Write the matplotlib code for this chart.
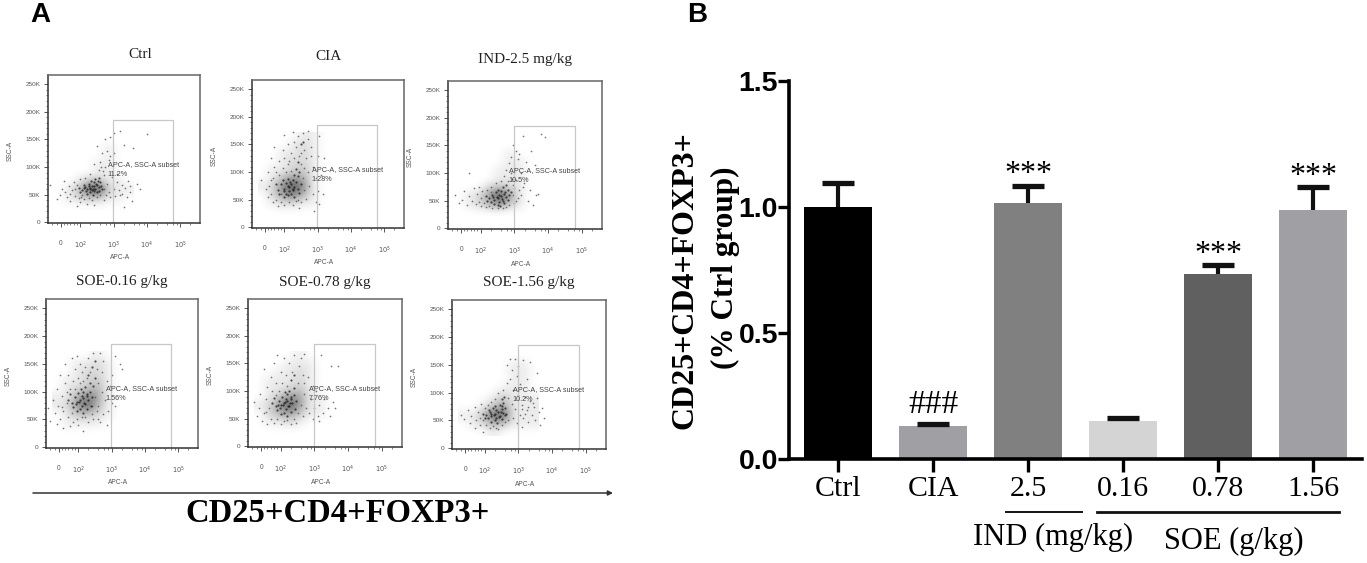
import numpy as np
import matplotlib
matplotlib.use("Agg")
import matplotlib.pyplot as plt
from matplotlib.colors import LinearSegmentedColormap

W, H = 1367, 563
SERIF = "Liberation Serif"
SANS = "Liberation Sans"

# ---------- bar chart values ----------
bar_labels = ["Ctrl", "CIA", "2.5", "0.16", "0.78", "1.56"]
bar_means = [1.00, 0.13, 1.015, 0.15, 0.735, 0.99]
bar_errors = [0.095, 0.01, 0.07, 0.012, 0.033, 0.088]
bar_marks = ["", "###", "***", "", "***", "***"]
y_ticks = [0.0, 0.5, 1.0, 1.5]

# ---------- flow cytometry values, estimated: (APC-A position in decades, SSC-A in K) ----------
panel_titles = ["Ctrl", "CIA", "IND-2.5 mg/kg", "SOE-0.16 g/kg", "SOE-0.78 g/kg", "SOE-1.56 g/kg"]
panel_percent = ["11.2%", "1.28%", "10.5%", "1.56%", "7.76%", "10.2%"]

ctrl_core = [(2.3,62),(2.4,65),(2.2,60),(2.5,68),(2.35,58),(2.15,64),(2.45,60),(2.55,63),(2.25,70),(2.4,72),(2.05,58),(2.6,72),(2.3,54),(2.5,55),(2.1,68),(2.65,60),(1.95,62),(2.2,52),(2.45,78),(2.55,80),(2.35,66),(2.28,61),(2.42,57),(2.18,57),(2.52,74),(2.0,54),(2.62,66),(2.38,50),(2.32,75),(2.12,62),(2.27,66),(2.47,69),(2.37,61),(2.57,57)]
ctrl_sparse = [(1.1,67),(1.3,42),(1.4,50),(1.45,60),(1.5,75),(1.55,55),(1.6,46),(1.65,66),(1.7,38),(1.75,58),(1.8,72),(1.85,48),(1.9,30),(1.9,68),(1.95,44),(2.0,78),(2.0,36),(2.05,50),(2.1,42),(2.15,80),(2.2,33),(2.25,44),(2.3,88),(2.35,40),(2.4,32),(2.4,105),(2.5,45),(2.5,138),(2.55,95),(2.6,110),(2.6,50),(2.65,125),(2.7,85),(2.7,40),(2.75,100),(2.75,150),(2.8,130),(2.8,70),(2.85,55),(2.85,112),(2.9,155),(2.9,45),(2.95,82),(3.0,162),(3.0,60),(3.0,125),(3.05,48),(3.1,72),(3.15,58),(3.2,50),(3.2,165),(3.25,68),(3.3,28),(3.3,140),(3.35,62),(3.4,45),(3.45,75),(3.5,55),(3.55,38),(3.6,135),(3.7,70),(3.8,60),(4.0,160),(1.7,52),(1.85,60),(2.02,46),(2.72,60),(2.78,50),(2.68,92),(2.9,120),(2.62,100),(3.1,88),(3.25,52),(3.5,66)]

cia_core = [(2.1,75),(2.0,70),(2.2,78),(2.3,72),(1.9,78),(2.15,65),(2.25,85),(2.05,60),(2.35,82),(1.8,68),(2.4,70),(2.1,88),(2.3,95),(2.2,60),(1.95,85),(2.45,62),(1.85,60),(2.5,78),(2.4,92),(2.0,55),(2.3,55),(2.15,72),(2.25,70),(2.05,80),(1.75,78),(2.35,105),(2.45,100),(2.5,150),(2.55,155),(2.4,118),(2.25,68),(2.12,58),(1.98,65),(2.18,82)]
cia_sparse = [(1.3,85),(1.45,70),(1.5,55),(1.5,100),(1.55,75),(1.6,60),(1.6,125),(1.65,90),(1.65,45),(1.7,145),(1.7,110),(1.75,100),(1.75,50),(1.8,38),(1.85,120),(1.85,95),(1.9,45),(1.95,140),(1.95,108),(2.0,168),(2.0,125),(2.0,40),(2.05,100),(2.1,150),(2.1,115),(2.15,45),(2.2,135),(2.2,102),(2.25,172),(2.25,40),(2.3,155),(2.3,125),(2.35,48),(2.35,145),(2.4,165),(2.4,50),(2.45,130),(2.5,115),(2.5,45),(2.55,170),(2.55,90),(2.6,140),(2.6,68),(2.65,125),(2.65,52),(2.7,160),(2.7,100),(2.7,175),(2.75,75),(2.8,130),(2.8,145),(2.85,110),(2.85,60),(2.9,30),(2.95,45),(2.95,90),(3.0,130),(3.0,65),(3.05,42),(3.05,165),(3.1,95),(3.15,60),(3.2,125),(2.45,35),(1.6,85),(2.15,120),(2.6,108),(1.9,60),(2.5,135)]

ind_core = [(2.5,55),(2.6,58),(2.4,52),(2.7,62),(2.55,48),(2.35,60),(2.65,50),(2.75,56),(2.45,65),(2.6,68),(2.25,55),(2.8,70),(2.5,42),(2.7,45),(2.3,48),(2.85,60),(2.15,58),(2.4,44),(2.65,75),(2.75,78),(2.55,60),(2.48,56),(2.62,53),(2.38,56),(2.72,66),(2.2,50),(2.82,52),(2.58,40),(2.52,70),(2.9,66)]
ind_sparse = [(1.25,60),(1.35,46),(1.45,52),(1.5,68),(1.6,42),(1.65,58),(1.65,100),(1.75,50),(1.8,72),(1.85,44),(1.9,62),(1.95,75),(2.0,40),(2.0,55),(2.05,68),(2.1,46),(2.15,38),(2.2,70),(2.25,40),(2.3,75),(2.35,36),(2.45,82),(2.5,36),(2.6,85),(2.65,36),(2.7,95),(2.75,105),(2.75,38),(2.8,85),(2.85,118),(2.85,42),(2.9,130),(2.9,100),(2.95,150),(2.95,78),(3.0,110),(3.0,45),(3.05,140),(3.05,88),(3.1,125),(3.1,55),(3.15,135),(3.15,70),(3.2,100),(3.2,60),(3.25,168),(3.3,82),(3.35,120),(3.4,50),(3.45,70),(3.5,140),(3.55,42),(3.6,115),(3.65,60),(3.7,62),(3.8,170),(3.9,165),(2.95,60),(3.05,50),(3.0,72),(2.92,90),(2.3,65),(1.95,48),(3.25,75)]

s016_core = [(2.05,85),(2.15,88),(1.95,82),(2.25,92),(2.1,75),(1.9,90),(2.2,78),(2.3,85),(2.0,98),(2.15,100),(1.8,80),(2.35,100),(2.05,68),(2.25,68),(1.85,72),(2.4,90),(1.7,85),(1.95,65),(2.2,108),(2.35,115),(2.1,92),(2.03,82),(2.17,80),(1.93,78),(2.27,96),(1.75,95),(2.37,75),(2.13,62),(2.08,105),(2.5,125),(2.45,110),(2.4,145),(2.5,155),(2.3,130)]
s016_sparse = [(1.1,70),(1.15,48),(1.25,85),(1.3,62),(1.35,105),(1.4,75),(1.45,50),(1.45,130),(1.5,92),(1.55,65),(1.55,35),(1.6,115),(1.6,150),(1.65,80),(1.7,55),(1.7,130),(1.75,105),(1.75,38),(1.8,160),(1.8,62),(1.85,120),(1.85,45),(1.9,140),(1.9,105),(1.95,50),(1.95,165),(2.0,125),(2.0,40),(2.05,150),(2.05,115),(2.1,55),(2.1,135),(2.15,30),(2.2,145),(2.2,55),(2.25,125),(2.3,160),(2.3,45),(2.35,135),(2.4,60),(2.45,170),(2.45,50),(2.5,90),(2.55,65),(2.55,140),(2.6,115),(2.6,75),(2.65,170),(2.65,45),(2.7,100),(2.7,135),(2.75,60),(2.75,155),(2.8,85),(2.85,40),(2.85,120),(2.9,65),(2.95,110),(3.0,80),(3.0,130),(3.1,165),(3.1,75),(3.25,150),(3.3,140),(1.35,42),(2.15,120),(2.4,75),(1.65,100),(2.6,50),(1.5,72)]

s078_core = [(2.1,78),(2.2,82),(2.0,75),(2.3,85),(2.15,68),(1.95,82),(2.25,72),(2.35,78),(2.05,90),(2.2,95),(1.85,72),(2.4,92),(2.1,60),(2.3,62),(1.9,65),(2.45,82),(1.75,78),(2.0,58),(2.25,100),(2.4,105),(2.15,85),(2.08,75),(2.22,72),(1.98,70),(2.32,90),(1.8,88),(2.42,68),(2.18,55),(2.13,98),(2.3,120),(2.4,130),(2.12,80),(2.27,78),(1.92,75)]
s078_sparse = [(1.2,80),(1.3,55),(1.35,70),(1.4,95),(1.45,45),(1.5,60),(1.5,140),(1.55,85),(1.6,108),(1.6,40),(1.65,70),(1.7,125),(1.7,50),(1.75,100),(1.8,150),(1.8,42),(1.85,115),(1.9,165),(1.9,50),(1.95,100),(2.0,135),(2.0,40),(2.05,115),(2.1,160),(2.1,45),(2.15,130),(2.2,110),(2.2,48),(2.25,150),(2.3,40),(2.35,135),(2.4,165),(2.4,50),(2.5,115),(2.5,60),(2.55,145),(2.6,160),(2.6,75),(2.65,130),(2.65,55),(2.7,168),(2.7,95),(2.75,70),(2.8,125),(2.85,60),(2.9,85),(2.95,50),(2.95,110),(3.0,70),(3.05,100),(3.1,55),(3.15,75),(3.2,165),(3.25,60),(3.3,85),(3.4,70),(3.45,55),(3.5,145),(3.55,80),(3.6,70),(3.7,145),(3.15,45),(1.55,62),(2.45,42),(2.7,115),(1.85,92)]

s156_core = [(2.3,62),(2.4,65),(2.2,58),(2.5,70),(2.35,54),(2.15,66),(2.45,58),(2.55,64),(2.25,72),(2.45,78),(2.05,60),(2.55,82),(2.3,50),(2.5,52),(2.1,54),(2.6,72),(1.95,62),(2.2,48),(2.5,88),(2.58,92),(2.35,68),(2.28,60),(2.42,56),(2.18,62),(2.52,76),(2.0,54),(2.62,62),(2.38,46),(2.32,76),(2.12,68),(2.6,60),(2.47,66)]
s156_sparse = [(1.3,60),(1.4,52),(1.5,68),(1.55,45),(1.6,58),(1.7,75),(1.7,36),(1.75,50),(1.8,65),(1.85,42),(1.9,80),(1.95,50),(1.95,30),(2.0,72),(2.05,42),(2.1,78),(2.15,36),(2.2,84),(2.25,40),(2.3,88),(2.35,36),(2.4,100),(2.4,34),(2.5,42),(2.55,105),(2.6,48),(2.65,118),(2.65,150),(2.7,90),(2.7,50),(2.75,160),(2.75,125),(2.8,80),(2.8,140),(2.85,105),(2.85,55),(2.9,160),(2.9,70),(2.95,130),(2.95,45),(3.0,95),(3.0,148),(3.05,115),(3.05,60),(3.1,78),(3.1,38),(3.15,158),(3.15,55),(3.2,92),(3.25,68),(3.25,125),(3.3,48),(3.35,85),(3.35,155),(3.4,60),(3.45,75),(3.5,50),(3.55,90),(3.55,135),(3.6,65),(3.65,42),(3.7,72),(3.75,55),(3.1,70),(3.3,75),(3.2,62),(3.42,82),(1.85,55)]

# estimated event density, read by eye; rows run from 165K down to 30K, columns from 1.35 to 3.45 decades
ctrl_density = [[0,0,0,0,0,0,0,0],[0,0,0,0,0,0,0,0],[0,0,0,0,0,1,0,0],[0,0,0,0,0,1,0,0],[0,0,0,0,1,1,0,0],
                [0,0,0,0,1,1,0,0],[0,0,1,3,3,1,1,0],[0,1,3,8,9,2,1,1],[0,1,2,3,3,1,1,0],[0,0,0,0,0,0,0,0]]
cia_density = [[0,0,0,0,1,1,0,0],[0,0,0,1,2,1,0,0],[0,0,1,1,2,1,0,0],[0,0,1,2,2,1,0,0],[0,1,1,2,3,1,0,0],
               [0,1,3,5,4,1,0,0],[1,2,6,9,6,1,0,0],[0,2,5,7,4,1,0,0],[0,1,2,2,1,1,0,0],[0,0,0,0,0,0,0,0]]
ind_density = [[0,0,0,0,0,0,0,0],[0,0,0,0,0,0,0,0],[0,0,0,0,0,1,0,0],[0,0,0,0,0,1,1,0],[0,0,0,0,1,1,1,0],
               [0,0,0,0,1,1,1,0],[0,0,0,2,3,2,1,0],[0,1,2,5,9,5,1,0],[0,1,2,4,6,3,1,0],[0,0,0,0,0,0,0,0]]
s016_density = [[0,0,0,0,1,0,0,0],[0,0,1,1,2,1,0,0],[0,0,1,2,2,1,0,0],[0,1,1,2,3,1,0,0],[0,1,2,3,4,1,0,0],
                [1,1,4,7,5,1,0,0],[1,2,5,8,4,1,0,0],[0,1,3,3,2,1,0,0],[0,1,1,1,1,0,0,0],[0,0,0,0,0,0,0,0]]
s078_density = [[0,0,0,0,1,0,0,0],[0,0,0,1,1,1,0,0],[0,0,1,1,2,1,0,0],[0,1,1,1,2,1,0,0],[0,1,1,2,3,1,0,0],
                [0,1,3,5,5,1,1,0],[1,2,5,9,5,1,1,0],[0,2,4,5,3,1,1,0],[0,1,1,2,1,0,0,0],[0,0,0,0,0,0,0,0]]
s156_density = [[0,0,0,0,0,0,0,0],[0,0,0,0,0,1,1,0],[0,0,0,0,0,1,1,0],[0,0,0,0,0,1,1,0],[0,0,0,0,1,1,1,0],
                [0,0,0,1,3,1,1,1],[0,0,1,3,5,1,1,1],[1,1,3,8,8,1,1,1],[0,1,2,4,3,1,1,1],[0,0,0,1,0,0,0,0]]

panel_core = [ctrl_core, cia_core, ind_core, s016_core, s078_core, s156_core]
panel_sparse = [ctrl_sparse, cia_sparse, ind_sparse, s016_sparse, s078_sparse, s156_sparse]
panel_density = [ctrl_density, cia_density, ind_density, s016_density, s078_density, s156_density]
ssc_ticks = [0, 50, 100, 150, 200, 250]
ssc_labels = ["0", "50K", "100K", "150K", "200K", "250K"]
apc_ticks = [1.42, 2, 3, 4, 5]
apc_labels = ["0", "$10^2$", "$10^3$", "$10^4$", "$10^5$"]
gate_x = (2.98, 4.79)
gate_top = 186

# ---------- layout in reference pixels ----------
frames = [(48, 75, 200, 223), (252, 80, 404, 228), (448, 81, 602, 229),
          (46, 299, 198, 448), (248, 299, 402, 447), (452, 300, 606, 449)]
title_pos = [(140, 55), (328, 57), (525, 59), (122, 282), (325, 283), (529, 283)]
BAR_BOX = (789, 81, 1362, 459)

fig = plt.figure(figsize=(W / 100, H / 100), dpi=100, facecolor="white")
cloud_cmap = LinearSegmentedColormap.from_list("cloud", ["#ffffff", "#2a2a2a"])


def add_px_axes(box):
    x0, y0, x1, y1 = box
    return fig.add_axes([x0 / W, 1 - y1 / H, (x1 - x0) / W, (y1 - y0) / H])


def px_text(x, y, s, **kw):
    kw.setdefault("ha", "center")
    kw.setdefault("va", "center")
    return fig.text(x / W, 1 - y / H, s, **kw)


GREY = "#555555"
for i, box in enumerate(frames):
    ax = add_px_axes(box)
    ax.imshow(np.array(panel_density[i]), extent=(1.2, 3.6, 22.5, 172.5), origin="upper", aspect="auto",
              cmap=cloud_cmap, vmin=0, vmax=11, interpolation="bicubic", zorder=0)
    ax.set_xlim(1.03, 5.6)
    ax.set_ylim(-1.5, 267)
    core = np.array(panel_core[i])
    sparse = np.array(panel_sparse[i])
    ax.scatter(sparse[:, 0], sparse[:, 1], s=1.5, c="#555555", linewidths=0, alpha=0.8, zorder=1)
    ax.scatter(core[:, 0], core[:, 1], s=2.5, c="#111111", linewidths=0, alpha=0.7, zorder=1)
    ax.plot([gate_x[0], gate_x[0], gate_x[1], gate_x[1]], [0, gate_top, gate_top, 0],
            color="#c8c8c8", lw=0.9, zorder=2)
    ax.text(2.83, 105, "APC-A, SSC-A subset", fontsize=5.2, family=SANS, color="#444444", va="center", zorder=3)
    ax.text(2.83, 87, panel_percent[i], fontsize=5.2, family=SANS, color="#444444", va="center", zorder=3)
    for sp in ax.spines.values():
        sp.set_color("#666666")
        sp.set_linewidth(1.1)
    ax.spines["left"].set_color("#333333")
    ax.spines["bottom"].set_color("#333333")
    ax.set_yticks(ssc_ticks)
    ax.set_yticklabels(ssc_labels, fontsize=4.6, family=SANS, color=GREY)
    ax.set_xticks(apc_ticks)
    ax.set_xticklabels(apc_labels, fontsize=4.8, family=SANS, color=GREY)
    ax.set_yticks(np.arange(0, 260, 10), minor=True)
    ax.set_xticks(sorted(d + np.log10(k) for d in (2, 3, 4, 5) for k in (2, 4, 6, 8)
                         if d + np.log10(k) < 5.5)
                  + [1.15, 1.3, 1.42, 1.5, 1.6, 1.7, 1.8, 1.9], minor=True)
    ax.tick_params(axis="x", which="major", length=3, width=0.7, pad=9, color=GREY)
    ax.tick_params(axis="y", which="major", length=3, width=0.7, pad=2.5, color=GREY)
    ax.tick_params(which="minor", length=1.5, width=0.5, color=GREY)
    x0, y0, x1, y1 = box
    px_text((x0 + x1) / 2 - 4, y1 + 35, "APC-A", fontsize=4.8, family=SANS, color=GREY)
    px_text(x0 - 38, (y0 + y1) / 2 + 2, "SSC-A", fontsize=4.8, family=SANS, color=GREY, rotation=90)
    tx, ty = title_pos[i]
    px_text(tx, ty, panel_titles[i], fontsize=11, family=SERIF, color="#222222")

# ---------- arrow and panel letters ----------
overlay = fig.add_axes([0, 0, 1, 1], facecolor="none")
overlay.set_xlim(0, W)
overlay.set_ylim(H, 0)
overlay.axis("off")
overlay.annotate("", xy=(613, 493), xytext=(33, 493),
                 arrowprops=dict(arrowstyle="-|>", color="#333333", lw=1.1, mutation_scale=7,
                                 shrinkA=0, shrinkB=0))
overlay.plot([1006, 1082], [512, 512], color="#111111", lw=1.4)
overlay.plot([1097, 1339], [512, 512], color="#111111", lw=2.0)
px_text(338, 513, "CD25+CD4+FOXP3+", fontsize=23.5, family=SERIF, fontweight="bold", color="black")
px_text(40, 15, "A", fontsize=20, family=SANS, fontweight="bold", color="black")
px_text(697, 15, "B", fontsize=20, family=SANS, fontweight="bold", color="black")

# ---------- bar chart ----------
bar_colors = ["#000000", "#a0a0a4", "#808080", "#d4d4d4", "#606060", "#a0a0a4"]
ax = add_px_axes(BAR_BOX)
pos = np.arange(len(bar_labels))
ax.bar(pos, bar_means, width=0.72, color=bar_colors, zorder=2)
_, caps, _ = ax.errorbar(pos, bar_means, yerr=[np.zeros(len(pos)), bar_errors], fmt="none", ecolor="#111111",
                         elinewidth=3, capsize=11.5, capthick=3.8, zorder=3)
caps[0].set_visible(False)
ax.set_xlim(-0.516, 5.516)
ax.set_ylim(0, 1.5)
ax.patch.set_alpha(0)
for side in ("top", "right"):
    ax.spines[side].set_visible(False)
for side in ("left", "bottom"):
    ax.spines[side].set_linewidth(2.6)
ax.set_yticks(y_ticks)
ax.set_yticklabels([f"{t:.1f}" for t in y_ticks], fontsize=20.5, family=SANS, fontweight="bold")
ax.set_xticks(pos)
ax.set_xticklabels(bar_labels, fontsize=21.5, family=SERIF)
ax.tick_params(axis="y", length=8, width=2.4, pad=0)
ax.tick_params(axis="x", length=9, width=2.4, pad=3)
for x, m, e, mark in zip(pos, bar_means, bar_errors, bar_marks):
    if mark == "###":
        ax.text(x, m + e + 0.015, mark, ha="center", va="bottom", fontsize=24, family=SERIF)
    elif mark:
        ax.text(x, m + e - 0.015, mark, ha="center", va="bottom", fontsize=23, family=SERIF)
px_text(685, 280, "CD25+CD4+FOXP3+", fontsize=23, family=SERIF, fontweight="bold", rotation=90)
px_text(725, 268, "(% Ctrl group)", fontsize=22.5, family=SERIF, fontweight="bold", rotation=90)
px_text(1053, 537, "IND (mg/kg)", fontsize=22, family=SERIF)
px_text(1234, 541, "SOE (g/kg)", fontsize=22, family=SERIF)

fig.savefig("out.png", dpi=100)
